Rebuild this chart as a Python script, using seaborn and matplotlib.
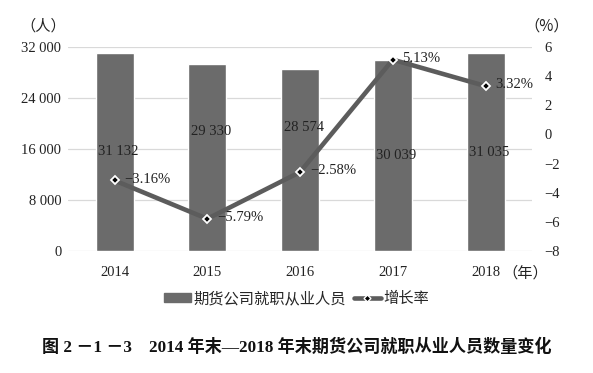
import numpy as np
import pandas as pd
import seaborn as sns
from matplotlib import pyplot as plt
from matplotlib.lines import Line2D
from matplotlib.patches import Patch

years = ["2014", "2015", "2016", "2017", "2018"]
staff = [31132, 29330, 28574, 30039, 31035]
growth = [-3.16, -5.79, -2.58, 5.13, 3.32]
staff_labels = ["31 132", "29 330", "28 574", "30 039", "31 035"]
growth_labels = ["−3.16%", "−5.79%", "−2.58%", "5.13%", "3.32%"]
left_ticks = [0, 8000, 16000, 24000, 32000]
left_tick_labels = ["0", "8 000", "16 000", "24 000", "32 000"]
right_ticks = [-8, -6, -4, -2, 0, 2, 4, 6]
right_tick_labels = ["−8", "−6", "−4", "−2", "0", "2", "4", "6"]

sns.set_style("white")
serif = ["Liberation Serif", "DejaVu Serif"]
cjk = ["Noto Sans CJK SC", "DejaVu Sans"]
plt.rcParams["font.family"] = serif

bar_color = "#6b6b6b"
line_color = "#5c5c5c"

df = pd.DataFrame({"year": years, "staff": staff, "growth": growth})

fig = plt.figure(figsize=(5.93, 3.73), dpi=100)
ax = fig.add_axes([0.115, 0.327, 0.782, 0.547])
sns.barplot(data=df, x="year", y="staff", color=bar_color, width=0.41,
            saturation=1, ax=ax, zorder=2)
ax.set_ylim(0, 32000)
ax.set_xlim(-0.5, 4.5)
ax.set_yticks(left_ticks, left_tick_labels)
ax.set_xlabel("")
ax.set_ylabel("")
ax.grid(axis="y", color="#d9d9d9", lw=0.9, zorder=0)
for s in ax.spines.values():
    s.set_visible(False)
ax.tick_params(axis="both", length=0, labelsize=10.5, colors="#222222")
ax.tick_params(axis="y", pad=5)
ax.tick_params(axis="x", pad=11)

# bar value labels (middle of bar, nudged where the line gets in the way)
label_frac = [0.50, 0.64, 0.68, 0.50, 0.50]
for i, (v, t) in enumerate(zip(staff, staff_labels)):
    ax.text(i + 0.04, v * label_frac[i], t, ha="center", va="center",
            fontsize=10.5, color="#222222", zorder=3)

ax2 = ax.twinx()
sns.lineplot(x=np.arange(len(years)), y=growth, ax=ax2, color=line_color,
             lw=3.3, zorder=4)
ax2.plot(np.arange(len(years)), growth, ls="none", marker="D", ms=4.5,
         mfc="black", mec="white", mew=1.3, zorder=5)
ax2.set_ylim(-8, 6)
ax2.set_yticks(right_ticks, right_tick_labels)
for s in ax2.spines.values():
    s.set_visible(False)
ax2.tick_params(axis="y", length=0, labelsize=10.5, pad=9, colors="#222222")
ax2.grid(False)

for i, (v, t) in enumerate(zip(growth, growth_labels)):
    ax2.annotate(t, (i, v), xytext=(7, 1), textcoords="offset points",
                 ha="left", va="center", fontsize=10.5, color="#222222",
                 zorder=6)

fig.text(0.073, 0.93, "（人）", family=cjk, fontsize=11, ha="center",
         va="center", color="#222222")
fig.text(0.922, 0.93, "（%）", family=cjk, fontsize=11, ha="center",
         va="center", color="#222222")
ax.annotate("（年）", (4, 0), xytext=(12, -16), textcoords="offset points",
            family=cjk, fontsize=11, ha="left", va="center", color="#222222")

handles = [Patch(color=bar_color),
           Line2D([], [], color=line_color, lw=3.3, marker="D", ms=3.5,
                  mfc="black", mec="white", mew=1)]
fig.legend(handles, ["期货公司就职从业人员", "增长率"], loc="center",
           bbox_to_anchor=(0.5, 0.2), ncol=2, frameon=False,
           prop={"family": cjk, "size": 11}, handlelength=1.8,
           handleheight=0.45, handletextpad=0.15, columnspacing=0.5)

fig.text(0.5, 0.07, "图 2 －1 －3　2014 年末—2018 年末期货公司就职从业人员数量变化",
         family=["Liberation Serif", "Noto Sans CJK SC"], weight="bold",
         fontsize=12.3, ha="center", va="center", color="#111111")

fig.savefig("out.png", dpi=100)
